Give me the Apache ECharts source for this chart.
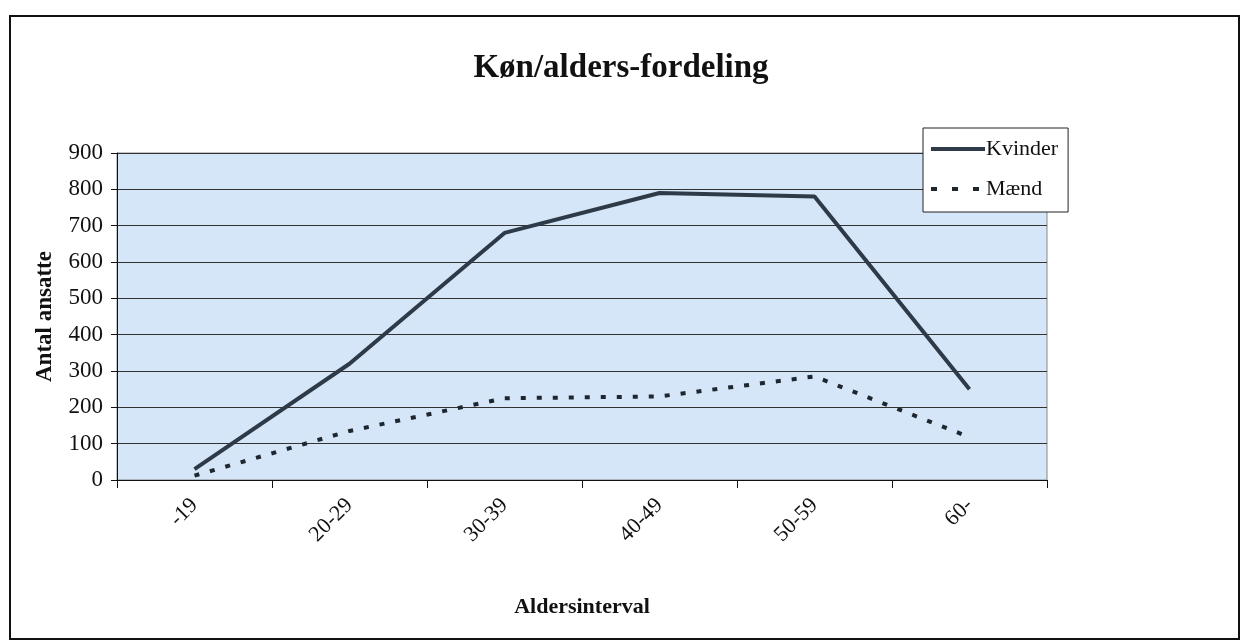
<!DOCTYPE html>
<html>
<head>
<meta charset="utf-8">
<script src="https://cdn.jsdelivr.net/npm/echarts@6/dist/echarts.min.js"></script>
<style>
  html, body { margin: 0; padding: 0; background: #fff; }
  #main { width: 1242px; height: 642px; }
</style>
</head>
<body>
<div id="main"></div>
<script>
var aldersinterval = ['-19', '20-29', '30-39', '40-49', '50-59', '60-'];
var kvinder = [30, 320, 680, 790, 780, 250];
var maend = [12, 135, 225, 230, 285, 118];
var yTicks = { min: 0, max: 900, interval: 100 };

var serif = 'Liberation Serif';
var kvColor = '#2e3a48';
var mdColor = '#1e2630';
var myChart = echarts.init(document.getElementById('main'));
myChart.setOption({
    backgroundColor: '#ffffff',
    title: {
        text: 'Køn/alders-fordeling',
        left: 'center',
        top: 47,
        textStyle: { fontFamily: serif, fontSize: 33, fontWeight: 'bold', color: '#111' }
    },
    legend: {
        orient: 'vertical',
        left: 923,
        top: 128,
        padding: [10, 10, 12, 6],
        itemWidth: 54,
        itemHeight: 12,
        itemGap: 18,
        backgroundColor: '#fff',
        borderColor: '#222',
        borderWidth: 1,
        borderRadius: 0,
        itemStyle: { opacity: 0 },
        textStyle: { fontFamily: serif, fontSize: 22, color: '#111', padding: [0, 0, 0, -4] },
        data: [
            { name: 'Kvinder', lineStyle: { width: 4, color: kvColor } },
            { name: 'Mænd', lineStyle: { width: 4, color: mdColor, type: [6, 15] } }
        ]
    },
    grid: {
        left: 117,
        right: 195,
        top: 153,
        bottom: 162,
        show: true,
        backgroundColor: '#d4e6f7',
        borderColor: '#888',
        borderWidth: 1
    },
    xAxis: {
        type: 'category',
        data: aldersinterval,
        boundaryGap: true,
        name: 'Aldersinterval',
        nameLocation: 'middle',
        nameGap: 116,
        nameTextStyle: { fontFamily: serif, fontSize: 22, fontWeight: 'bold', color: '#111' },
        axisLine: { lineStyle: { color: '#111', width: 1 } },
        axisTick: { show: true, length: 8, alignWithLabel: false, lineStyle: { color: '#111' } },
        axisLabel: {
            rotate: 45,
            margin: 22,
            fontFamily: serif,
            fontSize: 22,
            color: '#111'
        }
    },
    yAxis: {
        type: 'value',
        min: yTicks.min,
        max: yTicks.max,
        interval: yTicks.interval,
        name: 'Antal ansatte',
        nameLocation: 'middle',
        nameGap: 60,
        nameTextStyle: { fontFamily: serif, fontSize: 23, fontWeight: 'bold', color: '#111' },
        axisLine: { show: true, lineStyle: { color: '#111', width: 1 } },
        axisTick: { show: true, length: 6, lineStyle: { color: '#111' } },
        axisLabel: { fontFamily: serif, fontSize: 23, color: '#111', margin: 14 },
        splitLine: { lineStyle: { color: '#333', width: 1 } }
    },
    series: [
        {
            name: 'Kvinder',
            type: 'line',
            data: kvinder,
            symbol: 'none',
            lineStyle: { color: kvColor, width: 4 },
            itemStyle: { color: kvColor }
        },
        {
            name: 'Mænd',
            type: 'line',
            data: maend,
            symbol: 'none',
            lineStyle: { color: mdColor, width: 4, type: [5, 11] },
            itemStyle: { color: mdColor }
        }
    ],
    graphic: [
        {
            type: 'rect',
            shape: { x: 10, y: 16, width: 1229, height: 623 },
            style: { fill: 'none', stroke: '#111', lineWidth: 2 },
            silent: true
        }
    ]
});
</script>
</body>
</html>
